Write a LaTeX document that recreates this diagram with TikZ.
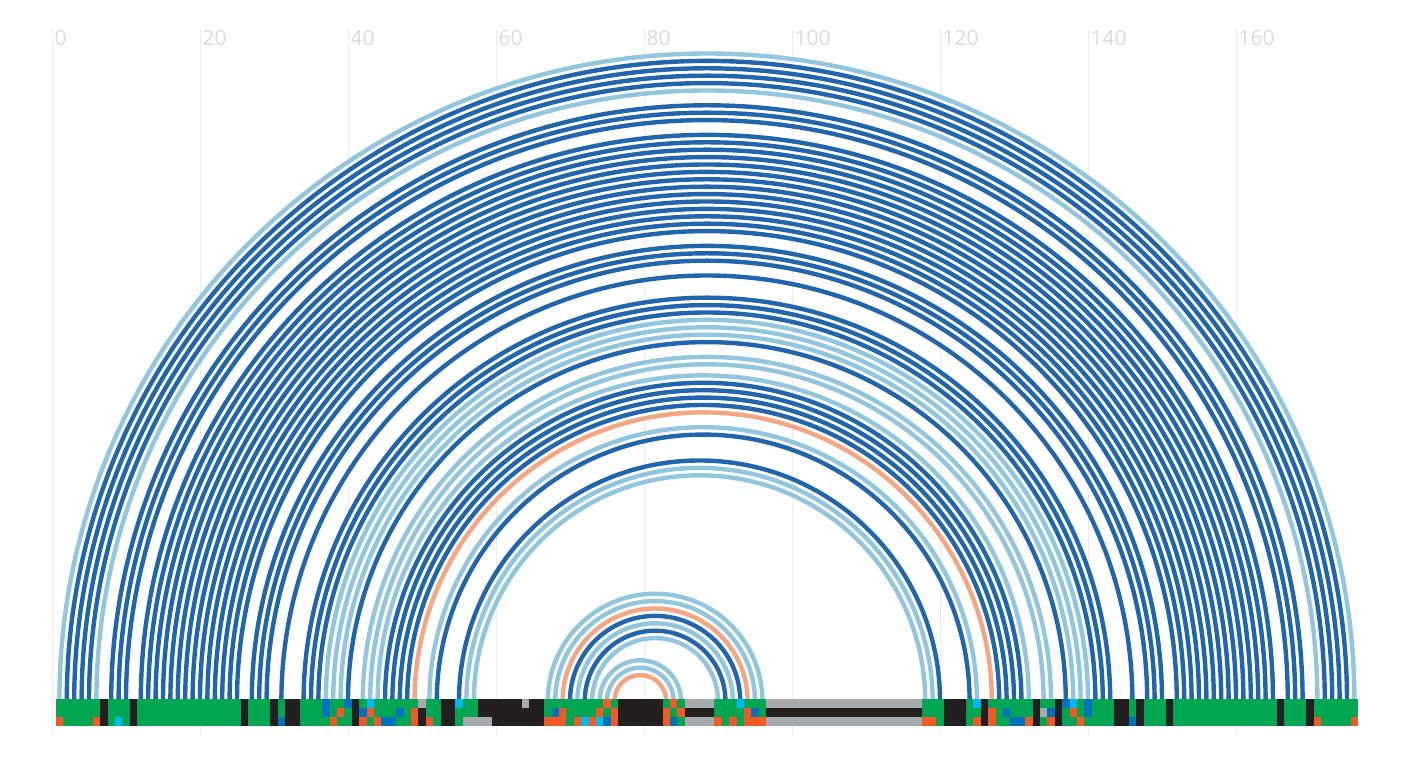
\documentclass[tikz,border=0pt]{standalone}
\usepackage{fontspec}
\setmainfont{Open Sans}
\definecolor{colG}{HTML}{00A651}
\definecolor{colK}{HTML}{231F20}
\definecolor{colB}{HTML}{0072BC}
\definecolor{colC}{HTML}{00B9F2}
\definecolor{colO}{HTML}{F15A24}
\definecolor{colY}{HTML}{A7A9AC}
\definecolor{arcD}{HTML}{2166AC}
\definecolor{arcL}{HTML}{92C5DE}
\definecolor{arcS}{HTML}{F4A582}
\definecolor{gridc}{HTML}{EBEBEB}
\definecolor{lblc}{HTML}{DADADA}
\tikzset{
  gridline/.style={draw=gridc, line width=1pt},
  lbl/.style={text=lblc, font=\fontsize{21}{24}\selectfont, anchor=base west, inner sep=0pt},
  arcline/.style={line width=4.4pt},
  D/.style={draw=arcD}, L/.style={draw=arcL}, S/.style={draw=arcS}
}
\begin{document}
\begin{tikzpicture}[x=1pt,y=1pt]
\useasboundingbox (0,0) rectangle (1408,762);
\fill[white] (0,0) rectangle (1408,762);
% grid
\foreach \k in {0,20,...,160} {
  \coordinate (gt\k) at ({52+7.4*\k},732);
  \coordinate (gb\k) at ({52+7.4*\k},27);
  \draw[gridline] (gt\k) -- (gb\k);
  \node[lbl] (lab\k) at ({52+7.4*\k+2.5},716) {\k};
}
% positions
\foreach \p in {1,...,176} { \coordinate (p\p) at ({52+7.4*\p},61); }
% arcs
\foreach \i/\j/\c in {
 1/176/L, 2/175/D, 3/174/D, 4/173/D, 5/172/D, 6/171/L,
 8/169/D, 9/168/D, 10/167/D,
 12/165/D, 13/164/D, 14/163/D, 15/162/D, 16/161/D, 17/160/D, 18/159/D,
 19/158/D, 20/157/D, 21/156/D, 22/155/D, 23/154/D, 24/153/D, 25/152/D,
 27/150/D, 28/149/D, 29/148/D, 31/146/D,
 34/143/D, 35/142/D, 36/141/D, 37/140/L, 38/139/L, 39/138/L, 40/137/D,
 42/135/L, 43/134/L, 44/132/L, 45/131/D, 46/130/D, 47/129/D, 48/128/D,
 49/127/S, 51/125/L, 52/124/D, 55/120/D, 56/119/L, 57/118/L,
 67/96/L, 68/95/L, 69/94/S, 70/93/D, 71/92/L, 72/91/D, 73/90/L,
 74/85/L, 75/84/L, 76/83/S} {
  \draw[arcline,\c] (p\i) arc[start angle=180, end angle=0, radius={3.7*(\j-\i)}];
}
% sequence bar
\foreach \s/\e/\a/\b/\c in {
 1/1/G/G/O, 2/5/G/G/G, 6/6/G/G/O, 7/7/K/K/K, 8/8/G/G/G, 9/9/G/G/C, 10/10/G/G/G,
 11/11/K/K/K, 12/25/G/G/G, 26/26/K/K/K, 27/29/G/G/G, 30/30/K/K/K, 31/31/G/G/B,
 32/33/K/K/K, 34/36/G/G/G, 37/37/B/B/G, 38/38/G/G/O, 39/39/G/O/G, 40/40/B/G/G,
 41/41/K/K/K, 42/42/G/B/O, 43/43/C/O/G, 44/44/G/G/O, 45/46/G/G/B, 47/47/G/B/G,
 48/48/G/G/G, 49/49/G/O/O, 50/50/Y/K/K, 51/51/G/G/O, 52/52/G/G/G, 53/54/K/K/K,
 55/55/C/G/G, 56/57/G/G/Y, 58/59/K/K/Y, 60/63/K/K/K, 64/64/Y/K/K, 65/66/K/K/K,
 67/67/G/G/O, 68/68/G/B/O, 69/69/G/O/O, 70/70/G/G/G, 71/71/G/G/O, 72/72/G/G/C,
 73/73/G/G/O, 74/74/G/O/C, 75/75/O/G/B, 76/76/G/O/O, 77/82/K/K/K, 83/83/G/O/O,
 84/84/O/G/B, 85/85/G/O/G, 86/89/Y/K/Y, 90/90/G/G/O, 91/91/G/G/G, 92/92/G/G/O,
 93/93/C/G/G, 94/94/G/O/O, 95/95/G/B/O, 96/96/G/G/O, 97/117/Y/K/Y, 118/119/G/G/O,
 120/120/G/G/G, 121/123/K/K/K, 124/124/G/G/G, 125/125/C/G/O, 126/126/K/K/K,
 127/127/G/O/O, 128/128/G/G/G, 129/129/G/B/G, 130/131/G/G/B, 132/132/G/G/O,
 133/133/K/K/K, 134/134/G/Y/G, 135/135/G/B/O, 136/136/K/K/K, 137/137/B/G/G,
 138/138/C/O/G, 139/139/G/G/O, 140/140/B/B/G, 141/143/G/G/G, 144/145/K/K/K,
 146/146/G/G/B, 147/147/K/K/K, 148/150/G/G/G, 151/151/K/K/K, 152/165/G/G/G,
 166/166/K/K/K, 167/169/G/G/G, 170/170/K/K/K, 171/171/G/G/O, 172/175/G/G/G,
 176/176/G/G/O} {
  \fill[fill=col\a] ({52+7.4*\s-3.7},63) rectangle ({52+7.4*\e+4.0},54);
  \fill[fill=col\b] ({52+7.4*\s-3.7},54.2) rectangle ({52+7.4*\e+4.0},45);
  \fill[fill=col\c] ({52+7.4*\s-3.7},45.2) rectangle ({52+7.4*\e+4.0},36);
}
\end{tikzpicture}
\end{document}
